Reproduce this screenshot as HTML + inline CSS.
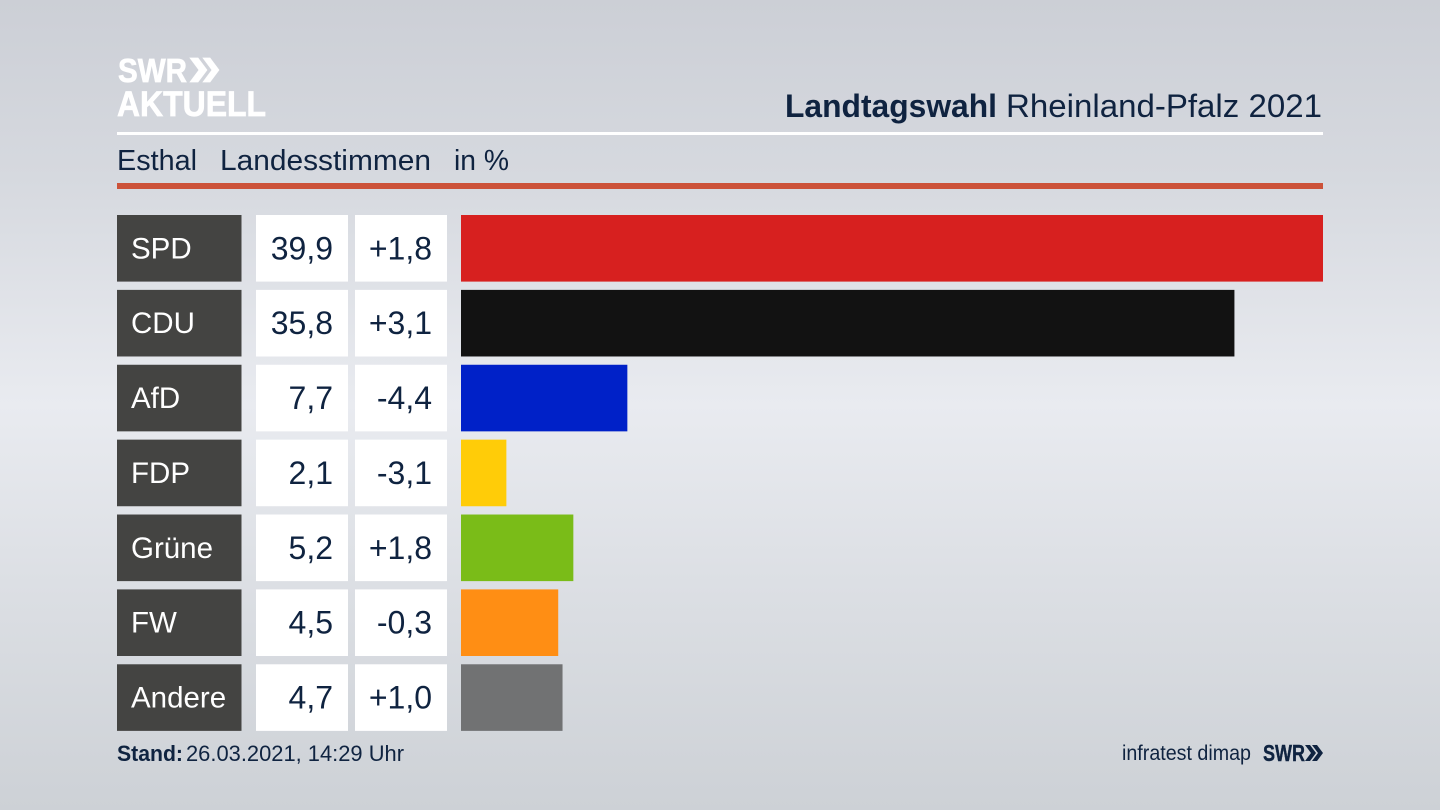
<!DOCTYPE html>
<html lang="de">
<head>
<meta charset="utf-8">
<title>Landtagswahl Rheinland-Pfalz 2021</title>
<style>
html,body{margin:0;padding:0;width:1440px;height:810px;overflow:hidden}
body{background:linear-gradient(180deg,#cccfd6 0%,#d6d9df 22%,#e9ebf0 50%,#dcdfe4 72%,#cdd1d6 100%)}
svg{display:block;font-family:"Liberation Sans",sans-serif}
</style>
</head>
<body>
<svg id="chart" width="1440" height="810" viewBox="0 0 1440 810" xmlns="http://www.w3.org/2000/svg">
  <g fill="#fff" stroke="#fff" stroke-width="0.7" font-weight="700">
    <text x="118" y="82" font-size="33" textLength="69" lengthAdjust="spacingAndGlyphs">SWR</text>
    <path d="M190 58h8l9 12-9 12h-8l9-12zM203 58h7l9 12-9 12h-7l9-12z"/>
    <text x="117" y="116" font-size="35" textLength="149" lengthAdjust="spacingAndGlyphs">AKTUELL</text>
  </g>
  <g fill="#0f2340">
    <text x="785" y="117" font-size="32" font-weight="700" textLength="212" lengthAdjust="spacingAndGlyphs">Landtagswahl</text>
    <text x="1006" y="117" font-size="32" textLength="316" lengthAdjust="spacingAndGlyphs">Rheinland-Pfalz 2021</text>
  </g>
  <rect x="117" y="132" width="1206" height="3" fill="#ffffff"/>
  <g fill="#0f2340" font-size="29">
    <text x="117" y="170" textLength="80" lengthAdjust="spacingAndGlyphs">Esthal</text>
    <text x="220" y="170" textLength="211" lengthAdjust="spacingAndGlyphs">Landesstimmen</text>
    <text x="454" y="170" textLength="55" lengthAdjust="spacingAndGlyphs">in %</text>
  </g>
  <rect x="117" y="183" width="1206" height="6" fill="#cc5239"/>
  <g id="rows"></g>
  <g fill="#0f2340">
    <text x="117" y="761" font-size="22" font-weight="700" textLength="66" lengthAdjust="spacingAndGlyphs">Stand:</text>
    <text x="186" y="761" font-size="22" textLength="218" lengthAdjust="spacingAndGlyphs">26.03.2021, 14:29 Uhr</text>
    <text x="1122" y="760" font-size="21" textLength="129" lengthAdjust="spacingAndGlyphs">infratest dimap</text>
    <text x="1263" y="761" font-size="23" font-weight="700" stroke="#0f2340" stroke-width="0.4" textLength="42" lengthAdjust="spacingAndGlyphs">SWR</text>
    <path d="M1305 745h5l6 8-6 8h-5l6-8zM1312 745h5l6 8-6 8h-5l6-8z"/>
  </g>
</svg>
<script>
const parties = ['SPD', 'CDU', 'AfD', 'FDP', 'Grüne', 'FW', 'Andere'];
const shares = [39.9, 35.8, 7.7, 2.1, 5.2, 4.5, 4.7];
const changes = ['+1,8', '+3,1', '-4,4', '-3,1', '+1,8', '-0,3', '+1,0'];
const partyColors = ['#d7201f', '#121212', '#0021c8', '#ffcc08', '#7abc18', '#ff8e14', '#717273'];

const NS = 'http://www.w3.org/2000/svg';
const rowsGroup = document.getElementById('rows');
const xMax = 39.9;

function xScale(v) {
  return 461 + (v / xMax) * 862;
}
function yScale(i) {
  return 215 + i * 74.88;
}
function fmt(v) {
  return v.toFixed(1).replace('.', ',');
}
function make(tag, attrs, parent) {
  const el = document.createElementNS(NS, tag);
  Object.keys(attrs).forEach(function (k) { el.setAttribute(k, attrs[k]); });
  parent.appendChild(el);
  return el;
}

parties.forEach(function (party, i) {
  const y = yScale(i);
  const h = 66.6;
  const mid = y + h / 2;
  const slug = party.toLowerCase().replace('ü', 'ue');

  const row = make('g', {}, rowsGroup);
  
  

  const labelBox = make('rect', { x: 117, y: y, width: 124.5, height: h, fill: '#444442' }, row);
  
  

  const label = make('text', { x: 131, y: mid + 10, 'font-size': 29.5, fill: '#ffffff' }, row);
  
  
  label.textContent = party;

  const valueBox = make('rect', { x: 256, y: y, width: 92, height: h, fill: '#ffffff' }, row);
  
  

  const value = make('text', { x: 333, y: mid + 11, 'font-size': 32, 'text-anchor': 'end', fill: '#0f2340' }, row);
  
  
  value.textContent = fmt(shares[i]);

  const changeBox = make('rect', { x: 355, y: y, width: 92, height: h, fill: '#ffffff' }, row);
  
  

  const change = make('text', { x: 432, y: mid + 11, 'font-size': 32, 'text-anchor': 'end', fill: '#0f2340' }, row);
  
  
  change.textContent = changes[i];

  const bar = make('rect', { x: xScale(0), y: y, width: xScale(shares[i]) - xScale(0), height: h, fill: partyColors[i] }, row);
  
  
});
</script>
</body>
</html>
